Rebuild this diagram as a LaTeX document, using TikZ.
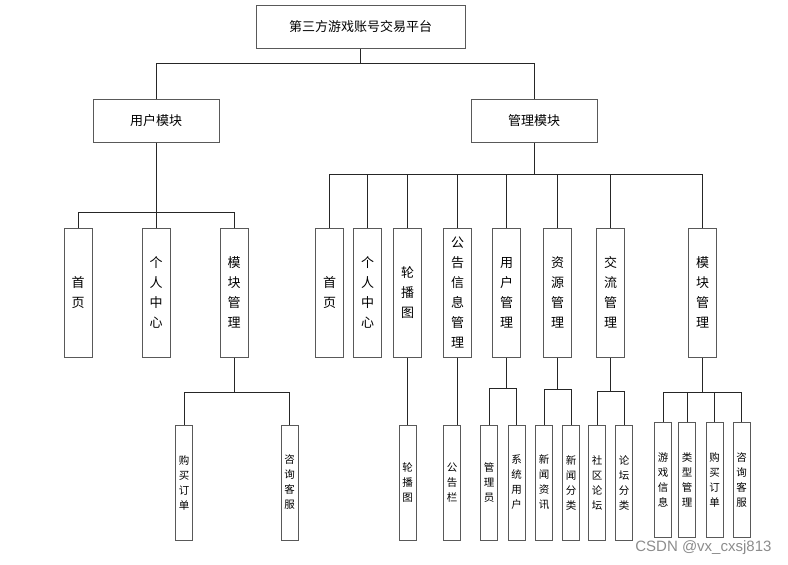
\documentclass[tikz,border=0pt]{standalone}
\usepackage{fontspec}
\newfontfamily\cjk{Noto Sans CJK SC}
\setsansfont{Liberation Sans}
\usetikzlibrary{calc}

\tikzset{
  box/.style={draw=black!65, line width=1pt, fill=white, inner sep=0pt,
    font=\cjk\fontsize{13}{20}\selectfont},
  topbox/.style={box, minimum width=209, minimum height=43},
  modbox/.style={box, minimum width=126, minimum height=43},
  colbox/.style={box, minimum width=28, minimum height=129, align=center},
  leafbox/.style={box, minimum width=17, minimum height=115, align=center,
    font=\cjk\fontsize{10.5}{15}\selectfont},
  link/.style={draw=black!85, line width=0.9pt}
}

\begin{document}
\begin{tikzpicture}[x=1pt, y=-1pt]
    \useasboundingbox (0,0) rectangle (788,565);

    % the top and the two modules
    \node[topbox] (top) at (360.5,26.5) {第三方游戏账号交易平台};
    \node[modbox] (user) at (156,120.5) {用户模块};
    \node[modbox] (admin) at (534,120.5) {管理模块};

    % the columns of the user module
    \node[colbox] (u1) at (78,292.5) {首\\页};
    \node[colbox] (u2) at (156,292.5) {个\\人\\中\\心};
    \node[colbox] (u3) at (234,292.5) {模\\块\\管\\理};

    % the columns of the admin module
    \node[colbox] (a1) at (329.5,292.5) {首\\页};
    \node[colbox] (a2) at (367.5,292.5) {个\\人\\中\\心};
    \node[colbox] (a3) at (407.5,292.5) {轮\\播\\图};
    \node[colbox] (a4) at (457.5,292.5) {公\\告\\信\\息\\管\\理};
    \node[colbox] (a5) at (506.5,292.5) {用\\户\\管\\理};
    \node[colbox] (a6) at (557.5,292.5) {资\\源\\管\\理};
    \node[colbox] (a7) at (610.5,292.5) {交\\流\\管\\理};
    \node[colbox] (a8) at (702.5,292.5) {模\\块\\管\\理};

    % the leaves
    \node[leafbox] (u31) at (184,482.5) {购\\买\\订\\单};
    \node[leafbox] (u32) at (289.5,482.5) {咨\\询\\客\\服};
    %
    \node[leafbox] (a31) at (407.5,482.5) {轮\\播\\图};
    \node[leafbox] (a41) at (452,482.5) {公\\告\\栏};
    \node[leafbox] (a51) at (489,482.5) {管\\理\\员};
    \node[leafbox] (a52) at (516.5,482.5) {系\\统\\用\\户};
    \node[leafbox] (a61) at (544,482.5) {新\\闻\\资\\讯};
    \node[leafbox] (a62) at (571,482.5) {新\\闻\\分\\类};
    \node[leafbox] (a71) at (597,482.5) {社\\区\\论\\坛};
    \node[leafbox] (a72) at (624,482.5) {论\\坛\\分\\类};
    \node[leafbox] (a81) at (663,480) {游\\戏\\信\\息};
    \node[leafbox] (a82) at (687,480) {类\\型\\管\\理};
    \node[leafbox] (a83) at (714.5,480) {购\\买\\订\\单};
    \node[leafbox] (a84) at (741.5,480) {咨\\询\\客\\服};

    % draw the connectors
    \draw[link] (top.south) -- ++(0,15) coordinate (b0);
    \draw[link] (b0) -| (user.north);
    \draw[link] (b0) -| (admin.north);
    %
    \draw[link] (user.south) -- ++(0,70) coordinate (b1);
    \foreach \c in {u1,u2,u3}
        \draw[link] (b1) -| (\c.north);
    \draw[link] (admin.south) -- ++(0,32) coordinate (b2);
    \foreach \c in {a1,a2,a3,a4,a5,a6,a7,a8}
        \draw[link] (b2) -| (\c.north);
    %
    \draw[link] (u3.south) -- ++(0,35) coordinate (b3);
    \foreach \c in {u31,u32}
        \draw[link] (b3) -| (\c.north);
    \draw[link] (a3.south) -- (a31.north);
    \draw[link] (a4.south) -- (a4.south |- a41.north);
    \draw[link] (a5.south) -- ++(0,31) coordinate (b5);
    \foreach \c in {a51,a52}
        \draw[link] (b5) -| (\c.north);
    \draw[link] (a6.south) -- ++(0,32) coordinate (b6);
    \foreach \c in {a61,a62}
        \draw[link] (b6) -| (\c.north);
    \draw[link] (a7.south) -- ++(0,34) coordinate (b7);
    \foreach \c in {a71,a72}
        \draw[link] (b7) -| (\c.north);
    \draw[link] (a8.south) -- ++(0,35) coordinate (b8);
    \foreach \c in {a81,a82,a83,a84}
        \draw[link] (b8) -| (\c.north);

    % the mark in the corner
    \node[anchor=east, text=black!45, font=\sffamily\fontsize{15}{15}\selectfont]
        (mark) at (775,548) {CSDN @vx\_cxsj813};
\end{tikzpicture}
\end{document}
